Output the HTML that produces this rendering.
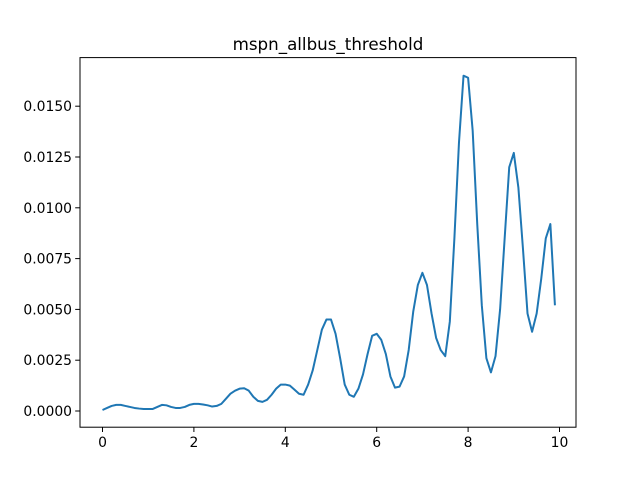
<!DOCTYPE html>
<html><head><meta charset="utf-8"><style>
body{margin:0;background:#fff;}
svg{display:block;font-family:"DejaVu Sans","Liberation Sans",sans-serif;}
</style></head><body>
<svg id="chart" width="640" height="480">
<rect width="640" height="480" fill="#fff"/>
<text x="328" y="50" text-anchor="middle" font-size="16.7">mspn_allbus_threshold</text>
<g id="xt"></g><g id="yt"></g>
<path id="line" fill="none" stroke="#1f77b4" stroke-width="2" stroke-linejoin="round"/>
<rect x="80" y="57.6" width="496" height="369.6" fill="none" stroke="#000" stroke-width="1"/>
</svg>
<script>
const xTicks=[0,2,4,6,8,10];
const yTicks=[0,0.0025,0.005,0.0075,0.01,0.0125,0.015];
const yLabels=["0.0000","0.0025","0.0050","0.0075","0.0100","0.0125","0.0150"];
const xStep=0.1;
const values=[0.05,0.15,0.25,0.3,0.3,0.25,0.2,0.15,0.12,0.1,0.1,0.1,0.2,0.3,0.28,0.2,0.15,0.15,0.2,0.3,0.35,0.35,0.32,0.28,0.22,0.25,0.35,0.6,0.85,1.0,1.1,1.12,1.0,0.7,0.5,0.45,0.55,0.8,1.1,1.3,1.3,1.25,1.05,0.85,0.8,1.3,2.0,3.0,4.0,4.5,4.5,3.8,2.6,1.3,0.8,0.7,1.1,1.8,2.8,3.7,3.8,3.5,2.8,1.7,1.15,1.2,1.7,3.0,4.9,6.2,6.8,6.2,4.8,3.6,3.0,2.7,4.4,8.5,13.2,16.5,16.4,13.8,9.2,5.2,2.6,1.9,2.7,5.0,8.5,12.0,12.7,11.0,8.0,4.8,3.9,4.8,6.5,8.5,9.2,5.2].map(v=>v/1000);
const NS="http://www.w3.org/2000/svg";
const X=v=>102.5+v*45.7;
const Y=v=>411+(-v/0.0025)*50.8;
function mk(t,a,p){const e=document.createElementNS(NS,t);for(const k in a)e.setAttribute(k,a[k]);p.appendChild(e);return e;}
const xt=document.getElementById('xt'),yt=document.getElementById('yt');
xTicks.forEach(v=>{
 const l=mk('line',{x1:X(v),x2:X(v),y1:427.2,y2:432,stroke:'#000','stroke-width':1},xt);
 
 
 const t=mk('text',{x:X(v),y:447,'text-anchor':'middle','font-size':13.9},xt);t.textContent=v;
 
 
});
yTicks.forEach((v,i)=>{
 const l=mk('line',{x1:75.2,x2:80,y1:Y(v),y2:Y(v),stroke:'#000','stroke-width':1},yt);
 
 
 const t=mk('text',{x:72,y:Y(v)+5,'text-anchor':'end','font-size':13.9},yt);t.textContent=yLabels[i];
 
 
});
document.getElementById('line').setAttribute('d',values.map((v,i)=>(i?'L':'M')+X(i*xStep).toFixed(2)+','+Y(v).toFixed(2)).join(''));
</script>
</body></html>
